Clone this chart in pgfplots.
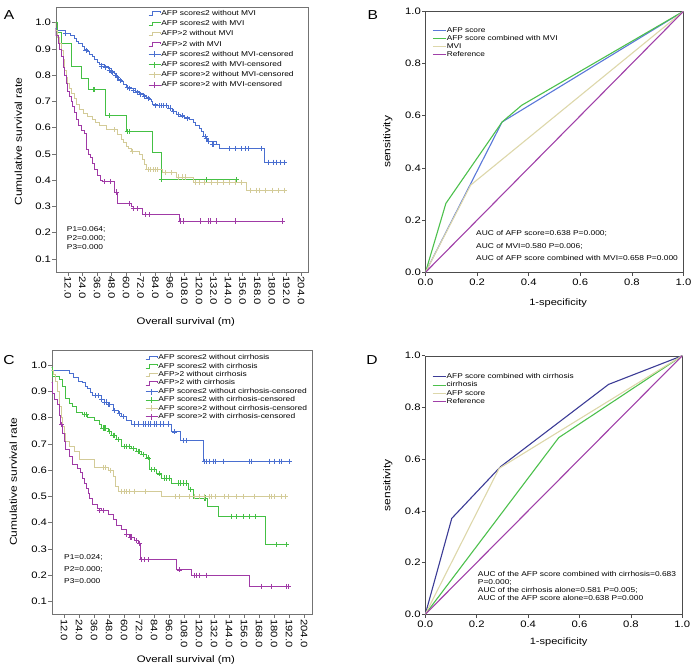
\documentclass[border=0pt]{standalone}
\usepackage{fontspec}
\setmainfont{Liberation Sans}[FakeStretch=1.2]
\usepackage{pgfplots}
\pgfplotsset{compat=1.18}

\definecolor{kmblue}{HTML}{4A6FD0}
\definecolor{kmgreen}{HTML}{44C044}
\definecolor{kmtan}{HTML}{D3CB98}
\definecolor{kmpurple}{HTML}{A03AA6}
\definecolor{rocblue}{HTML}{5A78D8}
\definecolor{rocgreen}{HTML}{4CC04C}
\definecolor{roctan}{HTML}{DDD7AA}
\definecolor{rocpurple}{HTML}{A040A8}
\definecolor{rocnavy}{HTML}{3C3C96}

\newcommand{\tickfont}{\fontsize{9.4}{10}\selectfont}
\newcommand{\labfont}{\fontsize{9.5}{11}\selectfont}
\newcommand{\smallfont}{\fontsize{7}{8}\selectfont}
\newcommand{\legfont}{\fontsize{6.9}{7.5}\selectfont}

\pgfplotsset{
  base/.style={scale only axis, /pgf/number format/assume math mode=true,
    tick align=outside, xtick pos=bottom, ytick pos=left, major tick length=3.5pt,
    tick label style={font=\tickfont}, label style={font=\labfont},
    xticklabel style={/pgf/number format/fixed, /pgf/number format/fixed zerofill, /pgf/number format/precision=1},
    yticklabel style={/pgf/number format/fixed, /pgf/number format/fixed zerofill, /pgf/number format/precision=1},
    legend cell align=left},
  km/.style={base, xmin=2, xmax=210, ymin=0.05, ymax=1.058,
    xtick={12,24,...,204}, ytick={0.1,0.2,0.3,0.4,0.5,0.6,0.7,0.8,0.9,1.0},
    axis line style={black!55}, tick style={black!55, line width=0.5pt},
    xticklabel style={/tikz/rotate=-90, /tikz/anchor=west, /tikz/inner sep=1pt},
    yticklabel style={/tikz/inner sep=1pt}},
  roc/.style={base, xmin=0, xmax=1, ymin=0, ymax=1,
    xtick={0,0.2,0.4,0.6,0.8,1.0}, ytick={0,0.2,0.4,0.6,0.8,1.0},
    axis line style={black!70}, tick style={black!70, line width=0.5pt},
    yticklabel style={/tikz/inner sep=1pt}},
  stepleg/.style={legend image code/.code={\draw[#1,line width=0.7pt] (0pt,-1.8pt)--(4pt,-1.8pt)--(4pt,1.8pt)--(12pt,1.8pt)--(12pt,0.4pt);}},
  censleg/.style={legend image code/.code={\draw[#1,line width=0.7pt] (0pt,0pt)--(12pt,0pt) (6pt,-3pt)--(6pt,3pt);}},
  kml/.style={#1, line width=0.8pt, const plot, stepleg=#1},
  kmc/.style={#1, only marks, mark=+, mark size=2.6pt, mark options={line width=0.7pt}, censleg=#1},
  rocl/.style={#1, line width=1.1pt, legend image code/.code={\draw[#1, line width=1.1pt] (0pt,0pt)--(13pt,0pt);}},
}

\begin{document}
\begin{tikzpicture}[x=1pt,y=1pt]
\path[use as bounding box] (0,0) rectangle (692,670);

% ---------------- Panel A ----------------
\begin{axis}[km, at={(55.7pt,398pt)}, anchor=south west, width=252.6pt, height=264.5pt,
  xlabel={Overall survival (m)}, ylabel={Cumulative survival rate},
  xlabel style={at={(axis description cs:0.515,-0.188)}, anchor=center},
  every axis y label/.style={at={(axis description cs:-0.148,0.493)}, rotate=90, anchor=center},
  legend style={at={(0.3655,0.992)}, anchor=north west, draw=none, fill=none, inner sep=0pt,
    font=\smallfont, row sep=2.7pt, nodes={inner sep=0.4pt, text height=5.2pt, text depth=1.5pt}}]
\addplot[kml=kmblue] coordinates {(0,1.0)(1,0.98)(3,0.97)(10,0.96)(14,0.95)(17,0.94)(19,0.93)(21,0.92)(24,0.91)(26,0.90)(28,0.89)(30,0.88)(32,0.87)(34,0.86)(36,0.85)(38,0.84)(42,0.833)(45,0.825)(48,0.815)(50,0.805)(52,0.795)(54,0.785)(56,0.775)(58,0.765)(60,0.755)(64,0.748)(68,0.738)(71,0.73)(74,0.724)(77,0.717)(79,0.708)(81,0.70)(82,0.688)(86,0.684)(95,0.675)(98,0.662)(101,0.65)(105,0.645)(108,0.64)(112,0.63)(115,0.62)(117,0.608)(120,0.597)(122,0.586)(124,0.567)(126,0.558)(127,0.548)(134,0.535)(137,0.52)(174,0.468)(192,0.468)};
\addlegendentry{AFP score≤2 without MVI}
\addplot[kml=kmgreen] coordinates {(0,1.0)(3.3,0.962)(7,0.923)(14.9,0.834)(23,0.787)(29.3,0.745)(43,0.646)(60,0.586)(81.4,0.504)(88.8,0.402)(150.5,0.402)};
\addlegendentry{AFP score≤2 with MVI}
\addplot[kml=kmtan] coordinates {(0,1.0)(1.5,0.97)(3.5,0.945)(5,0.92)(6.5,0.895)(8,0.86)(9.3,0.82)(10.5,0.79)(12,0.77)(13.5,0.75)(15,0.73)(17,0.71)(19,0.69)(21.6,0.67)(25,0.655)(28.5,0.643)(32,0.63)(35,0.62)(38,0.61)(43.5,0.592)(53,0.574)(56,0.555)(58,0.545)(60,0.53)(62,0.52)(64,0.51)(71,0.497)(73.7,0.478)(75,0.46)(76.5,0.44)(90,0.428)(101,0.412)(115,0.392)(158.7,0.362)(192,0.362)};
\addlegendentry{AFP>2 without MVI}
\addplot[kml=kmpurple] coordinates {(0,0.98)(2,0.95)(4,0.92)(5,0.90)(6.5,0.87)(8,0.83)(9,0.80)(10.5,0.77)(12,0.74)(13.5,0.72)(14.7,0.70)(16,0.68)(17.5,0.66)(19,0.63)(21,0.61)(23.5,0.59)(25.7,0.58)(27,0.517)(29,0.50)(30.5,0.485)(32,0.465)(34,0.44)(36,0.42)(38.5,0.40)(40.8,0.395)(50.4,0.355)(53,0.31)(64,0.30)(66,0.292)(73.7,0.268)(104,0.244)(188.4,0.244)};
\addlegendentry{AFP>2 with MVI}
\addplot[kmc=kmblue] coordinates {(10,0.96)(27,0.895)(40,0.835)(43,0.83)(46,0.82)(48,0.815)(49,0.81)(51,0.80)(53,0.79)(55,0.78)(61,0.752)(63,0.75)(66,0.743)(69,0.735)(72,0.727)(75,0.72)(78,0.712)(84,0.684)(87,0.684)(89,0.684)(91,0.684)(93,0.684)(96,0.675)(99,0.662)(103,0.65)(106,0.645)(110,0.635)(125,0.567)(126,0.558)(128,0.548)(131,0.535)(132,0.535)(145,0.52)(150,0.52)(155,0.52)(158,0.52)(161,0.52)(171,0.52)(177,0.468)(181,0.468)(184,0.468)(187,0.468)(190,0.468)};
\addlegendentry{AFP score≤2 without MVI-censored}
\addplot[kmc=kmgreen] coordinates {(32.6,0.745)(34,0.745)(46.3,0.646)(60.8,0.586)(62.7,0.586)(88.8,0.402)(125.8,0.402)(150.5,0.402)};
\addlegendentry{AFP score≤2 with MVI-censored}
\addplot[kmc=kmtan] coordinates {(50,0.592)(65,0.51)(78,0.44)(80,0.44)(82,0.44)(84,0.44)(86,0.44)(92,0.428)(97,0.428)(103,0.412)(106,0.412)(109,0.412)(117,0.392)(120,0.392)(124,0.392)(130,0.392)(135,0.392)(140,0.392)(145,0.392)(150,0.392)(155,0.392)(162,0.362)(167,0.362)(170,0.362)(175,0.362)(180,0.362)(185,0.362)(190,0.362)};
\addlegendentry{AFP score>2 without MVI-censored}
\addplot[kmc=kmpurple] coordinates {(42,0.395)(47,0.395)(52,0.355)(63,0.31)(66,0.292)(69,0.292)(76,0.268)(79,0.268)(105,0.244)(107,0.244)(121,0.244)(128,0.244)(129,0.244)(134,0.244)(150,0.244)(188.4,0.244)};
\addlegendentry{AFP score>2 with MVI-censored}
\end{axis}

% ---------------- Panel B ----------------
\begin{axis}[roc, at={(425.5pt,397.7pt)}, anchor=south west, width=258pt, height=261pt,
  xlabel={1-specificity}, ylabel={sensitivity},
  label style={font=\fontsize{9.2}{10}\selectfont},
  xlabel style={at={(axis description cs:0.514,-0.119)}, anchor=center},
  every axis y label/.style={at={(axis description cs:-0.146,0.5)}, rotate=90, anchor=center},
  legend style={at={(0.0255,0.94)}, anchor=north west, draw=none, fill=none, inner sep=0pt,
    font=\legfont, row sep=0.7pt, nodes={inner sep=0.4pt, text height=5.0pt, text depth=1.5pt}}]
\addplot[rocl=rocblue] coordinates {(0,0)(0.297,0.576)(1,1)};
\addlegendentry{AFP score}
\addplot[rocl=rocgreen] coordinates {(0,0)(0.079,0.264)(0.297,0.576)(0.373,0.64)(1,1)};
\addlegendentry{AFP score combined with MVI}
\addplot[rocl=roctan] coordinates {(0,0)(0.175,0.334)(1,1)};
\addlegendentry{MVI}
\addplot[rocl=rocpurple] coordinates {(0,0)(1,1)};
\addlegendentry{Reference}
\end{axis}

% ---------------- Panel C ----------------
\begin{axis}[km, at={(51.7pt,55.5pt)}, anchor=south west, width=260pt, height=264.5pt,
  xlabel={Overall survival (m)}, ylabel={Cumulative survival rate},
  xlabel style={at={(axis description cs:0.516,-0.172)}, anchor=center},
  every axis y label/.style={at={(axis description cs:-0.148,0.502)}, rotate=90, anchor=center},
  legend style={at={(0.359,0.985)}, anchor=north west, draw=none, fill=none, inner sep=0pt,
    font=\smallfont, row sep=0.9pt, nodes={inner sep=0.4pt, text height=5.2pt, text depth=1.5pt}}]
\addplot[kml=kmblue] coordinates {(0,0.981)(16,0.967)(19,0.952)(23,0.94)(26.8,0.933)(29,0.92)(30.8,0.91)(33,0.895)(34.8,0.884)(41.5,0.869)(44,0.86)(47,0.85)(51,0.827)(55,0.815)(57.7,0.805)(61.7,0.789)(65.7,0.776)(98,0.746)(104.7,0.713)(123.5,0.634)(192,0.634)};
\addlegendentry{AFP score≤2 without cirrhosis}
\addplot[kml=kmgreen] coordinates {(0,0.99)(2.6,0.958)(8,0.945)(10.7,0.92)(13.3,0.875)(16,0.856)(18.7,0.844)(21.4,0.822)(26.8,0.812)(30.8,0.80)(36,0.789)(40,0.774)(41.5,0.761)(47,0.748)(49.6,0.733)(53.6,0.717)(57.7,0.691)(65.7,0.682)(69.8,0.672)(73.8,0.66)(77.8,0.647)(80.5,0.602)(85.9,0.586)(90,0.57)(98,0.551)(111.4,0.526)(115.4,0.494)(126.2,0.462)(135.6,0.424)(173.2,0.316)(192,0.316)};
\addlegendentry{AFP score≤2 with cirrhosis}
\addplot[kml=kmtan] coordinates {(0,0.98)(3,0.965)(5,0.94)(6.5,0.90)(8,0.844)(9.5,0.80)(10.7,0.767)(12,0.74)(13.3,0.71)(16,0.69)(20,0.672)(24,0.64)(36,0.61)(47,0.60)(51,0.575)(53,0.54)(55,0.52)(90,0.50)(189.5,0.50)};
\addlegendentry{AFP>2 without cirrhosis}
\addplot[kml=kmpurple] coordinates {(0,0.933)(2.6,0.894)(4.5,0.869)(6.6,0.85)(8,0.81)(9.3,0.774)(10.5,0.74)(12,0.71)(13.3,0.678)(16,0.653)(18.7,0.621)(22.7,0.608)(25,0.59)(26.8,0.57)(28,0.55)(29.5,0.532)(31,0.51)(32,0.494)(34.8,0.469)(38.9,0.456)(41.5,0.446)(47,0.43)(51,0.411)(53.6,0.39)(57.7,0.373)(61.7,0.357)(64.4,0.345)(68.4,0.331)(71,0.322)(73.3,0.259)(102,0.22)(114,0.20)(160.3,0.157)(191.5,0.157)};
\addlegendentry{AFP>2 with cirrhosis}
\addplot[kmc=kmblue] coordinates {(37,0.884)(39,0.884)(42,0.869)(44,0.86)(46,0.86)(47.5,0.85)(48.5,0.85)(52,0.827)(56,0.815)(59,0.805)(68,0.776)(71,0.776)(75,0.776)(77,0.776)(79,0.776)(81,0.776)(84,0.776)(86,0.776)(89,0.776)(91,0.776)(95,0.776)(100,0.746)(107,0.713)(110,0.713)(124,0.634)(126,0.634)(128,0.634)(131,0.634)(133,0.634)(139,0.634)(160,0.634)(162,0.634)(176,0.634)(180,0.634)(184,0.634)(186,0.634)(192,0.634)};
\addlegendentry{AFP score≤2 without cirrhosis-censored}
\addplot[kmc=kmgreen] coordinates {(28,0.812)(29.5,0.812)(43,0.761)(44,0.761)(45,0.761)(48,0.748)(51,0.733)(52,0.733)(55,0.717)(60,0.691)(62,0.691)(64,0.691)(67,0.682)(71,0.672)(72,0.672)(75,0.66)(79,0.647)(82,0.602)(84,0.602)(88,0.586)(92,0.57)(94,0.57)(96,0.57)(103,0.551)(105,0.551)(107,0.551)(110,0.551)(113,0.526)(124,0.494)(125,0.494)(146,0.424)(150,0.424)(155,0.424)(160,0.424)(165,0.424)(182,0.316)(190,0.316)};
\addlegendentry{AFP score≤2 with cirrhosis-censored}
\addplot[kmc=kmtan] coordinates {(43,0.61)(45,0.61)(49,0.60)(58,0.52)(60,0.52)(62,0.52)(64,0.52)(68,0.52)(77,0.52)(101,0.50)(104,0.50)(112,0.50)(116,0.50)(120,0.50)(124,0.50)(128,0.50)(130,0.50)(133,0.50)(140,0.50)(143,0.50)(150,0.50)(155,0.50)(164,0.50)(176,0.50)(178,0.50)(180,0.50)(186,0.50)(189,0.50)};
\addlegendentry{AFP score>2 without cirrhosis-censored}
\addplot[kmc=kmpurple] coordinates {(10,0.774)(40,0.446)(43,0.446)(62,0.357)(65,0.345)(66,0.345)(70,0.331)(72,0.322)(74,0.259)(76,0.259)(79,0.259)(104,0.22)(116,0.20)(118,0.20)(120,0.20)(126,0.20)(170,0.157)(178,0.157)(190,0.157)(191.5,0.157)};
\addlegendentry{AFP score>2 with cirrhosis-censored}
\end{axis}

% ---------------- Panel D ----------------
\begin{axis}[roc, at={(425.3pt,55.7pt)}, anchor=south west, width=257pt, height=258.6pt,
  xlabel={1-specificity}, ylabel={sensitivity},
  label style={font=\fontsize{9.2}{10}\selectfont},
  xlabel style={at={(axis description cs:0.519,-0.106)}, anchor=center},
  every axis y label/.style={at={(axis description cs:-0.146,0.5)}, rotate=90, anchor=center},
  legend style={at={(0.026,0.933)}, anchor=north west, draw=none, fill=none, inner sep=0pt,
    font=\legfont, row sep=0.9pt, nodes={inner sep=0.4pt, text height=5.0pt, text depth=1.5pt}}]
\addplot[rocl=rocnavy] coordinates {(0,0)(0.103,0.371)(0.293,0.571)(0.713,0.889)(1,1)};
\addlegendentry{AFP score combined with cirrhosis}
\addplot[rocl=rocgreen] coordinates {(0,0)(0.519,0.683)(1,1)};
\addlegendentry{cirrhosis}
\addplot[rocl=roctan] coordinates {(0,0)(0.287,0.564)(1,1)};
\addlegendentry{AFP score}
\addplot[rocl=rocpurple] coordinates {(0,0)(1,1)};
\addlegendentry{Reference}
\end{axis}

% ---------------- annotations ----------------
\begin{scope}[every node/.style={inner sep=0pt, anchor=west, font=\smallfont}]
\node at (66.7pt,440pt) {P1=0.064;};
\node at (66.7pt,431.7pt) {P2=0.000;};
\node at (66.7pt,422.7pt) {P3=0.000};
\node at (64pt,112.7pt) {P1=0.024;};
\node at (64pt,100.7pt) {P2=0.000;};
\node at (64pt,89.3pt) {P3=0.000};
\node at (476pt,436.7pt) {AUC of AFP score=0.638 P=0.000;};
\node at (476pt,423.3pt) {AUC of MVI=0.580 P=0.006;};
\node at (476pt,411.7pt) {AUC of AFP score combined with MVI=0.658 P=0.000};
\node at (477.7pt,95.7pt) {AUC of the AFP score combined with cirrhosis=0.683};
\node at (477.7pt,87.7pt) {P=0.000;};
\node at (477.7pt,79.3pt) {AUC of the cirrhosis alone=0.581 P=0.005;};
\node at (477.7pt,71.7pt) {AUC of the AFP score alone=0.638 P=0.000};
\end{scope}
\begin{scope}[every node/.style={inner sep=0pt, anchor=center, font=\fontsize{13}{13}\selectfont}]
\node at (9pt,655pt) {A};
\node at (372.7pt,655pt) {B};
\node at (9pt,310pt) {C};
\node at (372pt,309.7pt) {D};
\end{scope}
\end{tikzpicture}
\end{document}
